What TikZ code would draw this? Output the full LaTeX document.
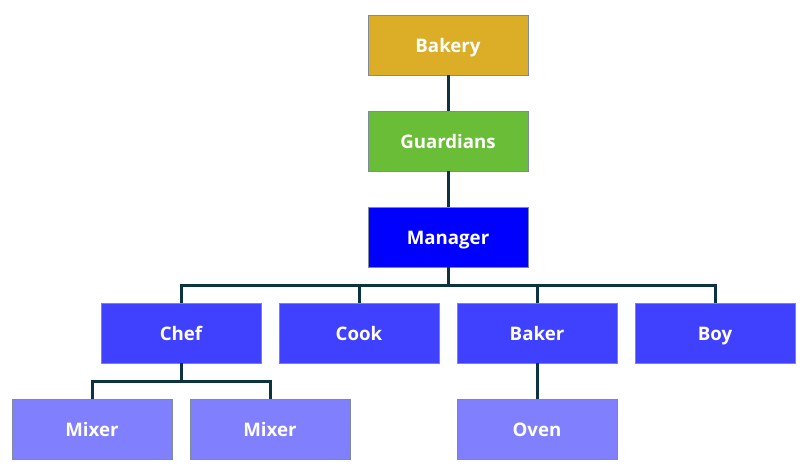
\documentclass[tikz,border=0pt]{standalone}
\usepackage{fontspec}
\setmainfont{Open Sans}
\usetikzlibrary{positioning,calc}
\def \rowDistance {27pt}
\def \colDistance {13.5pt}
\def \busDrop {13.5pt}
\definecolor{bakerygold}{HTML}{DCAE28}
\definecolor{guardgreen}{HTML}{6ABD36}
\definecolor{managerblue}{HTML}{0000FF}
\definecolor{staffblue}{HTML}{4040FF}
\definecolor{toolblue}{HTML}{8080FF}
\definecolor{boxedge}{HTML}{7F8A9C}
\definecolor{linkcolor}{HTML}{0B3440}
\tikzset{
	block/.style= {draw=boxedge, line width=0.6pt, rectangle, align=center, minimum width=120pt, minimum height=45pt, outer sep=0pt, text height=12pt, text depth=0.5pt, text=white, font=\bfseries\fontsize{14}{16}\selectfont},
	topblock/.style= {block, fill=bakerygold},
	guardblock/.style= {block, fill=guardgreen},
	managerblock/.style= {block, fill=managerblue},
	staffblock/.style= {block, fill=staffblue},
	toolblock/.style= {block, fill=toolblue},
	link/.style= {draw=linkcolor, line width=2.25pt}
}
\begin{document}
\begin{tikzpicture}
	\useasboundingbox (0,0) rectangle (607.5pt,-355.5pt);

%%%%%%%%%%%%%%%%%%%%% Nodes %%%%%%%%%%%%%%%%%%%%%
	\node [topblock, below right] at (276pt,-11.25pt) (B) {Bakery};
	\node [guardblock, below =\rowDistance of B] (G) {Guardians};
	\node [managerblock, below =\rowDistance of G] (M) {Manager};

	\node [staffblock, below =\rowDistance of M, xshift=-66.75pt] (Cook) {Cook};
	\node [staffblock, left =\colDistance of Cook] (Chef) {Chef};
	\node [staffblock, right =\colDistance of Cook] (Baker) {Baker};
	\node [staffblock, right =\colDistance of Baker] (Boy) {Boy};

	\node [toolblock, below =\rowDistance of Chef, xshift=-66.75pt] (Mix1) {Mixer};
	\node [toolblock, right =\colDistance of Mix1] (Mix2) {Mixer};
	\node [toolblock, below =\rowDistance of Baker] (Oven) {Oven};

%%%%%%%%%%%%%%%%%%%%% Links %%%%%%%%%%%%%%%%%%%%%
	\draw [link] (B.south) -- (G.north);
	\draw [link] (G.south) -- (M.north);
	\draw [link] (M.south) -- ++(0,-\busDrop) coordinate (bus);
	\draw [link] (Chef.north) |- (bus) -| (Boy.north);
	\draw [link] (Cook.north) -- (Cook.north |- bus);
	\draw [link] (Baker.north) -- (Baker.north |- bus);
	\draw [link] (Mix1.north) |- ($(Chef.south)+(0,-\busDrop)$) -| (Mix2.north);
	\draw [link] (Chef.south) -- ++(0,-\busDrop);
	\draw [link] (Baker.south) -- (Oven.north);

\end{tikzpicture}
\end{document}
